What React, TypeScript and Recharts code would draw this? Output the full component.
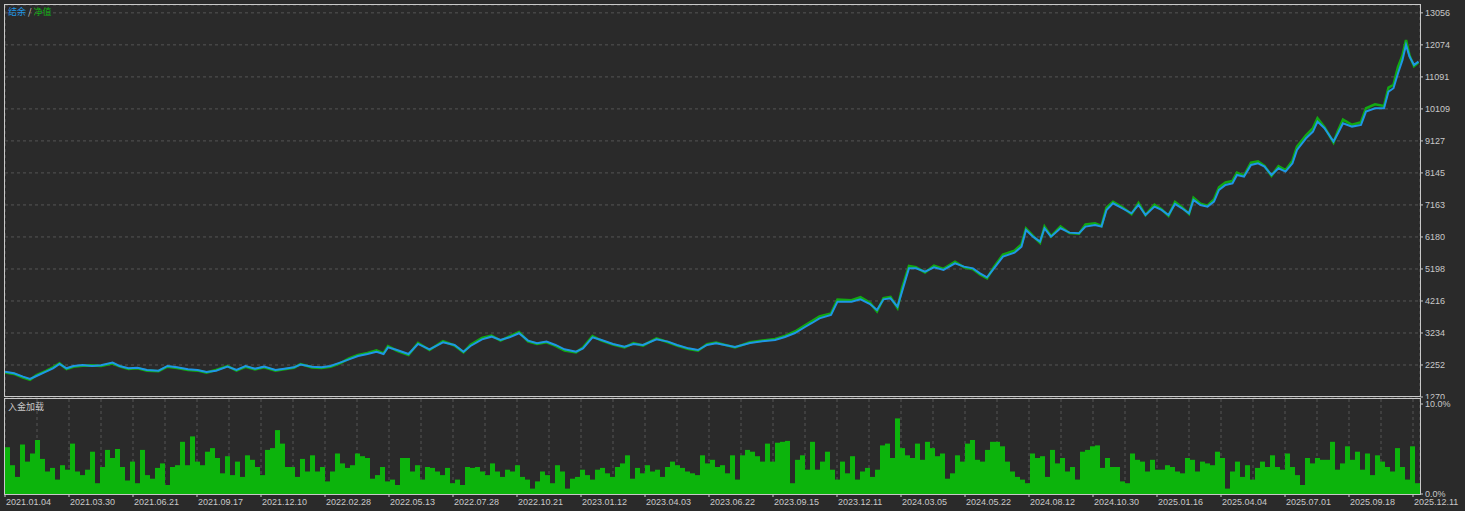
import { LineChart, Line, BarChart, Bar, XAxis, YAxis, CartesianGrid } from 'recharts';

const BG = '#2a2a2a';
const GRID = '#555555';
const TEXT = '#c8c8c8';
const FONT = '"Liberation Sans", Arial, sans-serif';
const CJK = '"Noto Sans CJK SC", sans-serif';

// time is counted in load periods (one deposit-load bar = one period)
const SPAN = 283;

const lineT = [
  0, 1.8, 3.6, 5, 6.3, 8.2, 9.6, 10.9, 12.3, 13.7,
  15.5, 17.4, 19.2, 21.5, 22.9, 24.7, 26.5, 28.4, 30.7, 32.5,
  34.4, 36.6, 38.5, 40.3, 42.2, 44.5, 46.3, 48.1, 50, 51.8,
  54.1, 55.9, 57.8, 59.1, 61.4, 63.3, 65.1, 67, 68.8, 70.6,
  72.5, 74.3, 75.7, 76.6, 78.4, 80.7, 82.6, 84.9, 87.6, 89.9,
  91.7, 93.1, 95.4, 97.3, 99.1, 100.9, 102.8, 104.6, 106.4, 108.3,
  110.1, 111.9, 114.2, 115.6, 117.5, 119.3, 121.6, 123.9, 125.7, 127.6,
  130.3, 132.6, 134.4, 136.7, 138.6, 140.4, 142.2, 146, 149, 152,
  154, 156, 158, 160, 161.4, 162.9, 165.2, 166.5, 169.3, 171.1,
  173, 174.4, 175.7, 177.1, 178.5, 179.4, 180.8, 182.2, 184, 185.8,
  187.7, 190, 191.8, 193.6, 195, 196.4, 197.8, 199.6, 201.9, 203.3,
  204.2, 205.6, 207, 207.9, 209.2, 211.1, 212.9, 214.8, 216.1, 218,
  219.3, 220.3, 221.6, 223.5, 225.3, 226.7, 228.1, 229.9, 231.3, 232.7,
  234, 235.4, 236.8, 237.7, 239.1, 240.5, 241.8, 242.8, 244.1, 245.5,
  246.4, 247.8, 249.2, 250.6, 251.9, 253.3, 254.7, 256.1, 257.5, 258.4,
  260.2, 261.6, 262.5, 263.9, 265.7, 266.6, 267.6, 269.4, 271.2, 272.2,
  274, 275.8, 276.7, 277.7, 278.6, 279.5, 280.2, 280.9, 281.8, 282.7,
];

const balance = [
  2047, 1996, 1894, 1822, 1914, 2047, 2150, 2283, 2150, 2222,
  2253, 2222, 2242, 2324, 2222, 2150, 2170, 2099, 2078, 2222,
  2181, 2119, 2099, 2037, 2078, 2201, 2099, 2222, 2140, 2201,
  2099, 2140, 2181, 2263, 2201, 2181, 2222, 2324, 2426, 2529,
  2590, 2660, 2590, 2794, 2712, 2590, 2898, 2733, 2949, 2867,
  2660, 2835, 3040, 3121, 3019, 3101, 3225, 2999, 2918, 2969,
  2867, 2733, 2660, 2763, 3101, 3019, 2898, 2814, 2898, 2867,
  3040, 2969, 2867, 2763, 2712, 2867, 2918, 2805, 2927, 2990,
  3019, 3111, 3234, 3418, 3541, 3684, 3786, 4196, 4196, 4267,
  4124, 3940, 4267, 4298, 4042, 4502, 5218, 5218, 5116, 5249,
  5168, 5372, 5270, 5218, 5065, 4942, 5218, 5577, 5699, 5883,
  6395, 6190, 6037, 6446, 6190, 6446, 6313, 6293, 6497, 6548,
  6497, 7009, 7213, 7060, 6906, 7162, 6855, 7111, 7009, 6855,
  7193, 7060, 6906, 7316, 7162, 7111, 7265, 7623, 7776, 7827,
  8083, 8032, 8390, 8441, 8339, 8083, 8288, 8185, 8441, 8850,
  9208, 9413, 9720, 9515, 9106, 9362, 9669, 9566, 9618, 10027,
  10129, 10129, 10640, 10743, 11203, 11612, 12073, 11715, 11459, 11561,
];

const equity = [
  2020, 1980, 1870, 1800, 1940, 2070, 2180, 2300, 2130, 2200,
  2230, 2240, 2220, 2300, 2210, 2130, 2150, 2080, 2060, 2200,
  2160, 2100, 2080, 2020, 2100, 2220, 2080, 2200, 2120, 2180,
  2080, 2120, 2170, 2280, 2180, 2160, 2200, 2300, 2450, 2560,
  2620, 2700, 2610, 2830, 2690, 2560, 2930, 2710, 2980, 2850,
  2640, 2870, 3080, 3150, 3000, 3130, 3260, 2980, 2900, 2950,
  2840, 2700, 2640, 2790, 3140, 3000, 2880, 2790, 2920, 2850,
  3070, 2950, 2850, 2740, 2690, 2890, 2940, 2790, 2950, 3010,
  3050, 3140, 3280, 3470, 3600, 3740, 3830, 4260, 4240, 4330,
  4160, 3900, 4300, 4340, 4000, 4600, 5290, 5250, 5090, 5300,
  5200, 5420, 5250, 5190, 5030, 4910, 5260, 5640, 5760, 5950,
  6440, 6210, 6000, 6500, 6200, 6500, 6300, 6280, 6560, 6600,
  6520, 7080, 7260, 7090, 6880, 7220, 6850, 7170, 7030, 6830,
  7250, 7090, 6890, 7380, 7200, 7140, 7330, 7700, 7850, 7900,
  8150, 8060, 8460, 8500, 8360, 8060, 8350, 8230, 8520, 8950,
  9300, 9520, 9820, 9550, 9080, 9440, 9780, 9620, 9700, 10130,
  10250, 10200, 10760, 10850, 11400, 11750, 12220, 11750, 11420, 11540,
];

// deposit load, %
const depositLoad = [
  5.2, 3.2, 1.9, 5.5, 3.6, 4.5, 6.0, 3.9, 2.5, 2.9,
  1.6, 3.2, 2.7, 5.6, 2.5, 2.1, 2.7, 4.7, 1.2, 3.0,
  4.9, 4.0, 5.0, 3.0, 1.5, 3.6, 1.2, 4.9, 2.1, 1.7,
  2.9, 3.4, 1.0, 3.0, 3.2, 5.8, 3.2, 6.4, 3.6, 3.2,
  4.7, 5.1, 4.0, 2.3, 4.2, 2.1, 3.6, 1.9, 4.3, 3.8,
  3.0, 2.1, 4.9, 5.1, 7.1, 5.6, 3.0, 3.0, 1.9, 3.9,
  2.5, 4.3, 2.5, 3.0, 1.4, 2.5, 4.5, 3.4, 2.9, 3.2,
  4.5,
  4.2, 4.0, 1.7, 2.1, 3.0, 1.4, 1.6, 1.0, 4.0, 4.0,
  2.5, 3.2, 1.6, 3.0, 2.9, 2.5, 2.1, 2.9, 1.2, 1.6,
  1.0, 3.0, 2.9, 3.0, 2.5, 2.1, 3.4, 2.5, 1.9, 2.7,
  2.5, 3.2, 1.9, 1.6, 0.6, 1.4, 2.5, 2.1, 1.2, 3.2,
  2.5, 0.6, 1.7, 1.9, 2.7, 2.1, 1.6, 2.7, 2.9, 2.3,
  1.9, 3.0, 3.4, 4.3, 1.7, 2.9, 2.3, 3.2, 2.5, 2.7,
  1.9, 3.0, 3.6, 3.2, 2.9, 2.5, 2.3, 2.1, 4.3, 3.4,
  3.8,
  3.0, 3.2, 2.3, 4.3, 1.6, 4.3, 4.9, 4.7, 4.2, 3.6,
  5.6, 3.6, 5.7, 5.8, 5.9, 1.2, 3.8, 4.3, 2.7, 5.8,
  2.7, 3.6, 4.7, 2.7, 1.6, 3.6, 2.3, 4.2, 1.6, 2.5,
  2.9, 1.9, 2.7, 5.4, 5.6, 4.0, 8.4, 5.1, 4.3, 4.0,
  5.6, 3.8, 5.8, 5.1, 4.2, 4.5, 1.7, 2.3, 4.3, 3.6,
  5.6, 6.0, 3.8, 3.6, 4.9, 5.8, 5.8, 5.3, 3.6, 2.5,
  1.9, 1.6, 1.2, 4.5, 4.0, 4.2, 1.9, 4.9, 3.4, 4.0,
  2.5,
  3.0, 1.6, 4.7, 4.9, 5.3, 5.4, 2.9, 4.0, 3.0, 3.0,
  1.4, 1.2, 4.5, 3.8, 3.6, 2.5, 3.8, 2.7, 2.7, 3.2,
  3.0, 2.5, 2.3, 4.0, 3.8, 2.5, 3.6, 3.4, 3.2, 4.7,
  4.0, 0.6, 2.5, 3.6, 1.9, 3.2, 1.6, 2.9, 3.6, 3.0,
  4.3, 3.0, 2.7, 4.5, 3.0, 2.1, 1.0, 4.0, 3.4, 4.0,
  3.8, 3.8, 5.8, 2.7, 3.4, 5.3, 3.8, 4.7, 2.7, 4.5,
  2.1, 4.3, 3.6, 3.0, 2.5, 5.1, 3.0, 1.6, 5.3, 1.2,
];

const dateLabels = [
  '2021.01.04', '2021.03.30', '2021.06.21', '2021.09.17', '2021.12.10',
  '2022.02.28', '2022.05.13', '2022.07.28', '2022.10.21', '2023.01.12',
  '2023.04.03', '2023.06.22', '2023.09.15', '2023.12.11', '2024.03.05',
  '2024.05.22', '2024.08.12', '2024.10.30', '2025.01.16', '2025.04.04',
  '2025.07.01', '2025.09.18', '2025.12.11',
];

const priceTicks = [1270, 2252, 3234, 4216, 5198, 6180, 7163, 8145, 9127, 10109, 11091, 12074, 13056];
const loadTicks = [0, 10];

// a grid line every half label step
const LABEL_STEP = 12.8;
const gridTicks = Array.from({ length: 45 }, (_, k) => +(k * LABEL_STEP / 2).toFixed(2));

const lineData = lineT.map((t, i) => ({ t, balance: balance[i], equity: equity[i] }));
const loadData = depositLoad.map((load, i) => ({ t: i + 0.5, load }));

const DateTick = (props: any) => {
  const { x, y, payload } = props;
  const k = Math.round(payload.value / (LABEL_STEP / 2));
  if (k % 2 !== 0) return <g />;
  return (
    <g>
      <line x1={x} x2={x} y1={y} y2={y + 3} stroke={TEXT} />
      <text x={x + 1} y={y + 11} fill={TEXT} fontSize={9} fontFamily={FONT} textAnchor="start">
        {dateLabels[k / 2]}
      </text>
    </g>
  );
};

const tickStyle = { fill: TEXT, fontSize: 9, fontFamily: FONT };

export default function App() {
  return (
    <div style={{ position: 'absolute', left: 0, top: 0, width: 1465, height: 511, background: BG, overflow: 'hidden' }}>
      <div style={{ position: 'absolute', left: 0, top: 0 }}>
        <LineChart width={1465} height={399} data={lineData} margin={{ top: 5, right: 0, left: 5, bottom: 2 }}>
          <CartesianGrid stroke={GRID} strokeDasharray="3 3" />
          <XAxis
            dataKey="t"
            type="number"
            domain={[0, SPAN]}
            ticks={gridTicks}
            interval={0}
            allowDataOverflow
            axisLine={false}
            tickLine={false}
            tick={false}
            height={0}
          />
          <YAxis
            orientation="right"
            width={45}
            domain={[1270, 13297]}
            ticks={priceTicks}
            interval={0}
            allowDataOverflow
            axisLine={false}
            tickSize={3}
            tickMargin={2}
            tickLine={{ stroke: TEXT }}
            tick={tickStyle}
          />
          <Line type="linear" dataKey="equity" stroke="#12a812" strokeWidth={2.6} dot={false} isAnimationActive={false} />
          <Line type="linear" dataKey="balance" stroke="#1e96e6" strokeWidth={2} dot={false} isAnimationActive={false} />
        </LineChart>
      </div>

      <div style={{ position: 'absolute', left: 0, top: 399 }}>
        <BarChart width={1465} height={112} data={loadData} margin={{ top: 0, right: 0, left: 5, bottom: 0 }} barCategoryGap={0}>
          <CartesianGrid stroke={GRID} strokeDasharray="3 3" horizontal={false} />
          <XAxis
            dataKey="t"
            type="number"
            domain={[0, SPAN]}
            ticks={gridTicks}
            interval={0}
            allowDataOverflow
            axisLine={false}
            tickLine={false}
            tickSize={0}
            tickMargin={0}
            height={17}
            tick={<DateTick />}
          />
          <YAxis
            orientation="right"
            width={45}
            domain={[0, 10.556]}
            ticks={loadTicks}
            interval={0}
            allowDataOverflow
            axisLine={false}
            tickSize={3}
            tickMargin={2}
            tickLine={{ stroke: TEXT }}
            tick={tickStyle}
            tickFormatter={(v: number) => v.toFixed(1) + '%'}
          />
          <Bar dataKey="load" fill="#0cb40c" isAnimationActive={false} />
        </BarChart>
      </div>

      <div style={{ position: 'absolute', left: 4, top: 4, width: 1417, height: 393, boxSizing: 'border-box', border: '1px solid ' + TEXT, pointerEvents: 'none' }} />
      <div style={{ position: 'absolute', left: 4, top: 398, width: 1417, height: 97, boxSizing: 'border-box', border: '1px solid ' + TEXT, pointerEvents: 'none' }} />

      <div style={{ position: 'absolute', left: 8, top: 6, fontFamily: CJK, fontSize: 9, lineHeight: '12px', whiteSpace: 'nowrap' }}>
        <span style={{ color: '#1e96e6' }}>结余</span>
        <span style={{ color: TEXT }}> / </span>
        <span style={{ color: '#12b012' }}>净值</span>
      </div>
      <div style={{ position: 'absolute', left: 8, top: 401, fontFamily: CJK, fontSize: 9, lineHeight: '12px', color: TEXT, whiteSpace: 'nowrap' }}>
        入金加载
      </div>
    </div>
  );
}
